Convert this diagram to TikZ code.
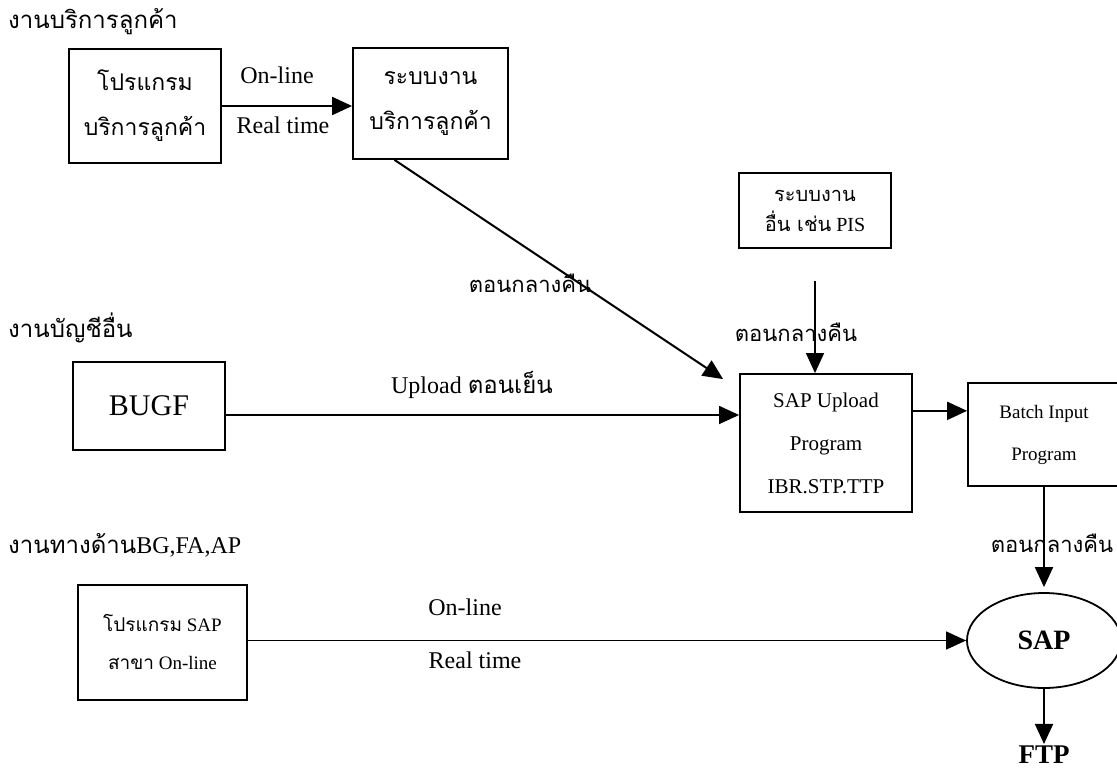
\documentclass[tikz,border=0pt]{standalone}
\usepackage{fontspec}
\setmainfont{Liberation Serif}
\newfontfamily\thai[Script=Thai]{Loma}
\usetikzlibrary{arrows.meta,shapes.geometric,calc}
\begin{document}
\begin{tikzpicture}[x=1pt,y=-1pt,
  box/.style={draw,line width=1.8pt,inner sep=0pt,align=center},
  lbl/.style={inner sep=0pt,font=\fontsize{24}{28}\selectfont},
  thlbl/.style={inner sep=0pt,font=\thai\fontsize{22}{26}\selectfont},
  ttl/.style={anchor=west,inner sep=0pt,font=\fontsize{24}{28}\selectfont},
  conn/.style={line width=2pt,-{Triangle[length=20pt,width=18pt]}},
  thinconn/.style={line width=1.4pt,-{Triangle[length=20pt,width=18pt]}}]
\fill[white] (0,0) rectangle (1117,771);
\useasboundingbox (0,0) rectangle (1117,771);
% titles
\node[ttl] (t1) at (8,22) {\thai งานบริการลูกค้า};
\node[ttl] (t2) at (8,328) {\thai งานบัญชีอื่น};
\node[ttl] (t3) at (8,545) {{\thai งานทางด้าน}BG,FA,AP};
% boxes
\node[box,minimum width=152pt,minimum height=114pt,font=\thai\fontsize{23}{45}\selectfont] (b1) at (145,106) {โปรแกรม\\บริการลูกค้า};
\node[box,minimum width=155pt,minimum height=111pt,font=\thai\fontsize{23}{45}\selectfont] (b2) at (430.5,103.5) {ระบบงาน\\บริการลูกค้า};
\node[box,minimum width=152pt,minimum height=75pt,font=\fontsize{20}{30}\selectfont] (b3) at (815,210.5) {{\thai ระบบงาน}\\{\thai อื่น เช่น} PIS};
\node[box,minimum width=172pt,minimum height=138pt,font=\fontsize{21}{43}\selectfont] (b4) at (826,443) {SAP Upload\\Program\\IBR.STP.TTP};
\node[box,minimum width=152pt,minimum height=103pt,font=\fontsize{19}{42}\selectfont] (b5) at (1044,434.5) {Batch Input\\Program};
\node[draw,ellipse,line width=1.8pt,inner sep=0pt,minimum width=154pt,minimum height=95pt,font=\bfseries\fontsize{28}{32}\selectfont] (sap) at (1044,640.5) {SAP};
\node[inner sep=2pt,font=\bfseries\fontsize{27}{30}\selectfont] (ftp) at (1044,755) {FTP};
\node[box,minimum width=152pt,minimum height=88pt,font=\fontsize{30}{34}\selectfont] (bugf) at (149,406) {BUGF};
\node[box,minimum width=169pt,minimum height=115pt,font=\fontsize{19}{38}\selectfont] (b6) at (162.5,642.5) {{\thai โปรแกรม} SAP\\{\thai สาขา} On-line};
% labels
\node[lbl] (l1) at (277,75) {On-line};
\node[lbl] (l2) at (283,125) {Real time};
\node[lbl] (l3) at (472,385) {Upload {\thai ตอนเย็น}};
\node[lbl] (l4) at (465,607) {On-line};
\node[lbl] (l5) at (475,660) {Real time};
\node[thlbl] (n1) at (530,283) {ตอนกลางคืน};
\node[thlbl] (n2) at (796,332) {ตอนกลางคืน};
\node[thlbl] (n3) at (1052,543) {ตอนกลางคืน};
% connectors
\draw[conn] (b1.east) -- (b1.east -| b2.west);
\coordinate (d1) at ($(b2.south west)!0.27!(b2.south east)$);
\coordinate (d2) at ($(b4.north west)+(-16,6)$);
\draw[conn] (d1) -- (d2);
\draw[thinconn,shorten <=32pt] (b3.south) -- (b3.south |- b4.north);
\coordinate (u1) at ($(bugf.east)+(0,9)$);
\draw[thinconn] (u1) -- (u1 -| b4.west);
\coordinate (s1) at ($(b4.north east)!0.27!(b4.south east)$);
\draw[conn] (s1) -- (s1 -| b5.west);
\draw[conn,shorten >=5pt] (b5.south) -- (sap.north);
\draw[thinconn] (b6.east |- sap.west) -- (sap.west);
\draw[conn] (sap.south) -- (ftp.north);
\end{tikzpicture}
\end{document}
